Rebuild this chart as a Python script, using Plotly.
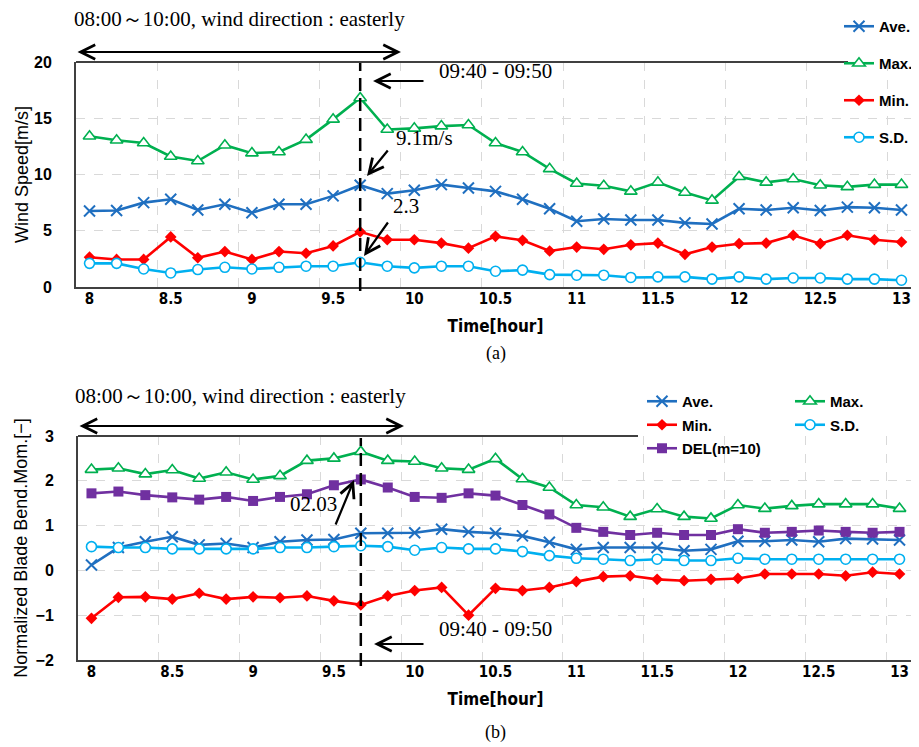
import plotly.graph_objects as go

W, H = 919, 747


def PX(x):
    return x / W


def PY(y):
    return 1 - y / H


# ---------------- data ----------------
TIME_MIN = [480, 490, 500, 510, 520, 530, 540, 550, 560, 570, 580, 590, 600, 610, 620, 630,
            640, 650, 660, 670, 680, 690, 700, 710, 720, 730, 740, 750, 760, 770, 780]
HOURS = [m / 60 for m in TIME_MIN]
X_TICKS = [8, 8.5, 9, 9.5, 10, 10.5, 11, 11.5, 12, 12.5, 13]
X_TICK_TEXT = ["8", "8.5", "9", "9.5", "10", "10.5", "11", "11.5", "12", "12.5", "13"]
HIGHLIGHT_T = 9 + 40 / 60  # 09:40 - 09:50 interval

# (a) wind speed [m/s]
WS_AVE = [6.75, 6.8, 7.5, 7.8, 6.85, 7.35, 6.6, 7.35, 7.35, 8.1, 9.05, 8.3, 8.6, 9.1, 8.8, 8.5,
          7.8, 6.95, 5.85, 6.05, 5.95, 5.95, 5.7, 5.6, 6.95, 6.85, 7.05, 6.8, 7.1, 7.05, 6.85]
WS_MAX = [13.4, 13.05, 12.8, 11.6, 11.2, 12.6, 11.9, 12.0, 13.1, 14.9, 16.8, 14.0, 14.1, 14.3, 14.4,
          12.8, 12.0, 10.5, 9.2, 9.0, 8.5, 9.3, 8.4, 7.7, 9.8, 9.3, 9.6, 9.05, 8.9, 9.1, 9.1]
WS_MIN = [2.65, 2.45, 2.45, 4.45, 2.6, 3.15, 2.45, 3.15, 3.0, 3.65, 4.9, 4.2, 4.2, 3.9, 3.45, 4.5,
          4.15, 3.2, 3.55, 3.35, 3.75, 3.9, 2.9, 3.55, 3.85, 3.9, 4.6, 3.85, 4.6, 4.2, 4.0]
WS_SD = [2.1, 2.1, 1.6, 1.25, 1.55, 1.75, 1.6, 1.75, 1.85, 1.85, 2.2, 1.85, 1.7, 1.85, 1.85, 1.4,
         1.5, 1.1, 1.05, 1.05, 0.85, 0.9, 0.9, 0.7, 0.9, 0.7, 0.8, 0.8, 0.7, 0.7, 0.6]

# (b) normalized blade bending moment [-]
BM_AVE = [0.12, 0.51, 0.64, 0.75, 0.57, 0.6, 0.51, 0.64, 0.68, 0.69, 0.83, 0.83, 0.84, 0.92, 0.86,
          0.83, 0.77, 0.63, 0.47, 0.51, 0.51, 0.51, 0.44, 0.47, 0.65, 0.65, 0.68, 0.64, 0.71, 0.7, 0.68]
BM_MAX = [2.25, 2.28, 2.15, 2.24, 2.05, 2.19, 2.03, 2.11, 2.45, 2.5, 2.65, 2.45, 2.43, 2.28, 2.25,
          2.49, 2.04, 1.85, 1.46, 1.41, 1.2, 1.37, 1.2, 1.16, 1.46, 1.38, 1.44, 1.48, 1.48, 1.48, 1.38]
BM_MIN = [-1.07, -0.6, -0.59, -0.64, -0.51, -0.64, -0.59, -0.61, -0.57, -0.68, -0.77, -0.57, -0.45,
          -0.38, -1.0, -0.4, -0.45, -0.38, -0.25, -0.14, -0.12, -0.2, -0.23, -0.2, -0.18, -0.08,
          -0.08, -0.08, -0.12, -0.04, -0.08]
BM_SD = [0.53, 0.51, 0.51, 0.48, 0.48, 0.48, 0.48, 0.51, 0.51, 0.53, 0.55, 0.53, 0.45, 0.51, 0.48,
         0.48, 0.42, 0.33, 0.27, 0.25, 0.22, 0.25, 0.22, 0.22, 0.27, 0.25, 0.25, 0.25, 0.25, 0.25, 0.25]
BM_DEL = [1.72, 1.76, 1.68, 1.63, 1.58, 1.64, 1.55, 1.64, 1.7, 1.9, 2.03, 1.85, 1.64, 1.62, 1.72,
          1.67, 1.46, 1.25, 0.95, 0.86, 0.79, 0.84, 0.79, 0.79, 0.92, 0.84, 0.86, 0.89, 0.86, 0.84, 0.86]

# ---------------- styles ----------------
C_AVE, C_MAX, C_MIN, C_SD, C_DEL = "#1F6FC0", "#00B050", "#FF0000", "#00B0F0", "#7030A0"
SANS = "Liberation Sans, Arial, sans-serif"
NARROW = "Liberation Sans Narrow, DejaVu Sans Condensed, Liberation Sans, sans-serif"
SERIF = "Liberation Serif, Times New Roman, serif"
AXIS_COL = "#404040"
GRID_COL = "#D9D9D9"

STYLES = {
    "Ave.": dict(color=C_AVE, marker=dict(symbol="x-thin", size=11, line=dict(color=C_AVE, width=2))),
    "Max.": dict(color=C_MAX, marker=dict(symbol="triangle-up", size=11, color="white",
                                         line=dict(color=C_MAX, width=1.6))),
    "Min.": dict(color=C_MIN, marker=dict(symbol="diamond", size=9, color=C_MIN)),
    "S.D.": dict(color=C_SD, marker=dict(symbol="circle", size=10, color="white",
                                        line=dict(color=C_SD, width=1.6))),
    "DEL(m=10)": dict(color=C_DEL, marker=dict(symbol="square", size=10, color=C_DEL)),
}

fig = go.Figure()


def add(name, y, xa, ya, legend):
    st = STYLES[name]
    fig.add_trace(go.Scatter(
        x=HOURS, y=y, name=name, mode="lines+markers",
        line=dict(color=st["color"], width=2.6), marker=st["marker"],
        xaxis=xa, yaxis=ya, legend=legend, legendgroup=legend + name,
    ))


add("Ave.", WS_AVE, "x", "y", "legend")
add("Max.", WS_MAX, "x", "y", "legend")
add("Min.", WS_MIN, "x", "y", "legend")
add("S.D.", WS_SD, "x", "y", "legend")

add("Ave.", BM_AVE, "x2", "y2", "legend2")
add("Max.", BM_MAX, "x2", "y2", "legend3")
add("Min.", BM_MIN, "x2", "y2", "legend2")
add("S.D.", BM_SD, "x2", "y2", "legend3")
add("DEL(m=10)", BM_DEL, "x2", "y2", "legend2")

XR = [TIME_MIN[0] / 60 - 5 / 60, TIME_MIN[-1] / 60 + 5 / 60]

common_x = dict(
    range=XR, tickmode="array", tickvals=X_TICKS, ticktext=X_TICK_TEXT,
    showgrid=False, zeroline=False, ticks="",
    showline=True, linecolor=AXIS_COL, linewidth=2,
    tickfont=dict(family=NARROW, size=15, color="black", weight="bold"),
    ticklabelstandoff=-3,
    minor=dict(tickmode="linear", tick0=XR[0], dtick=0.5, showgrid=True,
               gridcolor=GRID_COL, griddash="dash", gridwidth=1.2, ticks=""),
    automargin=False,
    title=dict(text="Time[hour]", font=dict(family=NARROW, size=17, color="black", weight="bold"),
               standoff=13),
)
common_y = dict(
    showgrid=True, gridcolor=GRID_COL, griddash="dash", gridwidth=1.2,
    zeroline=False, ticks="", showline=True, linecolor=AXIS_COL, linewidth=2,
    tickfont=dict(family=SANS, size=16, color="black", weight="bold"),
    ticklabelstandoff=19, automargin=False,
)

LEG_FONT = dict(family=SANS, size=15, color="black", weight="bold")

fig.update_layout(
    width=W, height=H, margin=dict(l=0, r=0, t=0, b=0),
    paper_bgcolor="white", plot_bgcolor="white",
    xaxis=dict(domain=[PX(68), PX(907)], anchor="y", **common_x),
    yaxis=dict(domain=[PY(279), PY(54)], range=[0, 20], dtick=5, anchor="x",
               title=dict(text="Wind Speed[m/s]", font=dict(family=SANS, size=18, color="black"),
                          standoff=1),
               **common_y),
    xaxis2=dict(domain=[PX(70), PX(905)], anchor="y2", **common_x),
    yaxis2=dict(domain=[PY(652), PY(428)], range=[-2, 3], dtick=1, anchor="x2",
                title=dict(text="Normalized Blade Bend.Mom.[\u2212]",
                           font=dict(family=SANS, size=18, color="black"), standoff=3),
                **common_y),
    legend=dict(x=PX(831), y=PY(2), xanchor="left", yanchor="top", bgcolor="rgba(0,0,0,0)",
                font=LEG_FONT, tracegroupgap=14.5, itemwidth=30),
    legend2=dict(x=PX(634), y=PY(377), xanchor="left", yanchor="top", bgcolor="rgba(0,0,0,0)",
                 font=LEG_FONT, tracegroupgap=1, itemwidth=30),
    legend3=dict(x=PX(782), y=PY(377), xanchor="left", yanchor="top", bgcolor="rgba(0,0,0,0)",
                 font=LEG_FONT, tracegroupgap=1, itemwidth=30),
    showlegend=True,
)

shapes = []
# partial top / right frame lines (legends sit in the upper-right corner)
shapes.append(dict(type="line", xref="paper", yref="paper", x0=PX(68), x1=PX(840), y0=PY(54), y1=PY(54),
                   line=dict(color=AXIS_COL, width=2)))
shapes.append(dict(type="line", xref="paper", yref="paper", x0=PX(907), x1=PX(907), y0=PY(155), y1=PY(279),
                   line=dict(color=AXIS_COL, width=2)))
shapes.append(dict(type="line", xref="paper", yref="paper", x0=PX(70), x1=PX(630), y0=PY(428), y1=PY(428),
                   line=dict(color=AXIS_COL, width=2)))
shapes.append(dict(type="line", xref="paper", yref="paper", x0=PX(905), x1=PX(905), y0=PY(462), y1=PY(652),
                   line=dict(color=AXIS_COL, width=2)))
# highlighted interval 09:40 - 09:50
shapes.append(dict(type="line", xref="x", yref="paper", x0=HIGHLIGHT_T, x1=HIGHLIGHT_T,
                   y0=PY(283), y1=PY(55), line=dict(color="black", width=2.5, dash="13px,7px")))
shapes.append(dict(type="line", xref="x2", yref="paper", x0=HIGHLIGHT_T, x1=HIGHLIGHT_T,
                   y0=PY(658), y1=PY(430), line=dict(color="black", width=2.5, dash="13px,7px")))
fig.update_layout(shapes=shapes)

ann = []
DY = 7  # annotation box vs glyph centre correction


def text(t, x, y, size=21, family=SERIF, **kw):
    ann.append(dict(text=t, x=PX(x), y=PY(y - DY), xref="paper", yref="paper", showarrow=False,
                    xanchor="center", yanchor="middle", font=dict(family=family, size=size, color="black"), **kw))


def arrow(tail, head, both=False):
    ann.append(dict(text="", x=PX(head[0]), y=PY(head[1]), xref="paper", yref="paper",
                    ax=tail[0] - head[0], ay=tail[1] - head[1], axref="pixel", ayref="pixel",
                    showarrow=True, arrowhead=5, startarrowhead=5, arrowsize=1.3, startarrowsize=1.3,
                    arrowwidth=2.2, arrowcolor="black", arrowside="end+start" if both else "end"))


# (a)
text("08:00\uff5e10:00, wind direction : easterly", 231, 18)
arrow((68, 44), (393, 44), both=True)
text("09:40 - 09:50", 488, 70)
arrow((417, 73), (365, 73))
text("9.1m/s", 416, 137)
arrow((381, 141), (359, 168))
text("2.3", 398, 205)
arrow((381, 213), (356, 248))
text("(a)", 488, 352, size=18)
# (b)
text("08:00\uff5e10:00, wind direction : easterly", 233, 395)
arrow((70, 418), (396, 418), both=True)
text("02.03", 305, 503)
arrow((327, 518), (346, 472))
text("09:40 - 09:50", 488, 628)
arrow((417, 636), (366, 636))
text("(b)", 488, 731, size=18)

fig.update_layout(annotations=ann)

fig.write_html("out.html")
